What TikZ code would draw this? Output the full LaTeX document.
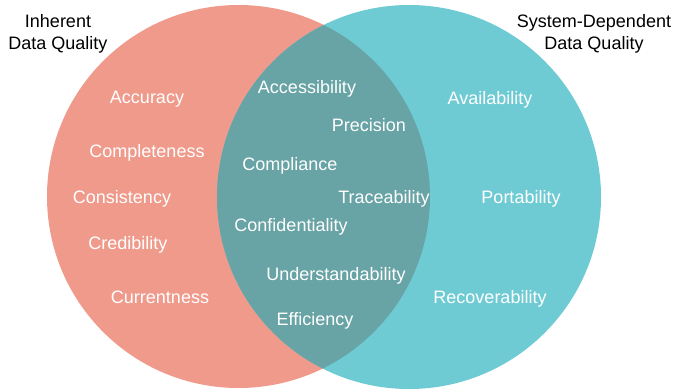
\documentclass[tikz,border=0pt]{standalone}
\usepackage{fontspec}
\setmainfont{Liberation Sans}
\definecolor{inhcol}{HTML}{EF9A8B}
\definecolor{syscol}{HTML}{6FCBD3}
\definecolor{bothcol}{HTML}{68A3A5}
\begin{document}
\begin{tikzpicture}[x=1pt, y=-1pt,
  attr/.style={text=white, anchor=base, inner sep=0pt, font=\fontsize{18}{22}\selectfont},
  head/.style={text=black, align=center, inner sep=0pt, font=\fontsize{18}{22}\selectfont}]
\useasboundingbox (0,0) rectangle (677,389);
% the two sets and their overlap
\fill[inhcol] (238.5,196.5) circle[radius=191.5];
\fill[syscol] (409,197) circle[radius=192];
\begin{scope}
\clip (238.5,196.5) circle[radius=191.5];
\fill[bothcol] (409,197) circle[radius=192];
\end{scope}
% headings
\node[head] (H_0) at (58,34) {Inherent\\Data Quality};
\node[head] (H_1) at (594,34) {System-Dependent\\Data Quality};
% inherent only
\node[attr] (I_0) at (147,103.5) {Accuracy};
\node[attr] (I_1) at (147,157.5) {Completeness};
\node[attr] (I_2) at (122,203.5) {Consistency};
\node[attr] (I_3) at (128,249.5) {Credibility};
\node[attr] (I_4) at (160,303.5) {Currentness};
% both
\node[attr] (B_0) at (307,93.5) {Accessibility};
\node[attr] (B_1) at (369,131.5) {Precision};
\node[attr] (B_2) at (290,170.5) {Compliance};
\node[attr] (B_3) at (384,203.5) {Traceability};
\node[attr] (B_4) at (291,231.5) {Confidentiality};
\node[attr] (B_5) at (336,280.5) {Understandability};
\node[attr] (B_6) at (315,325.5) {Efficiency};
% system-dependent only
\node[attr] (S_0) at (490,104.5) {Availability};
\node[attr] (S_1) at (521,203.5) {Portability};
\node[attr] (S_2) at (490,303.5) {Recoverability};
\end{tikzpicture}
\end{document}
